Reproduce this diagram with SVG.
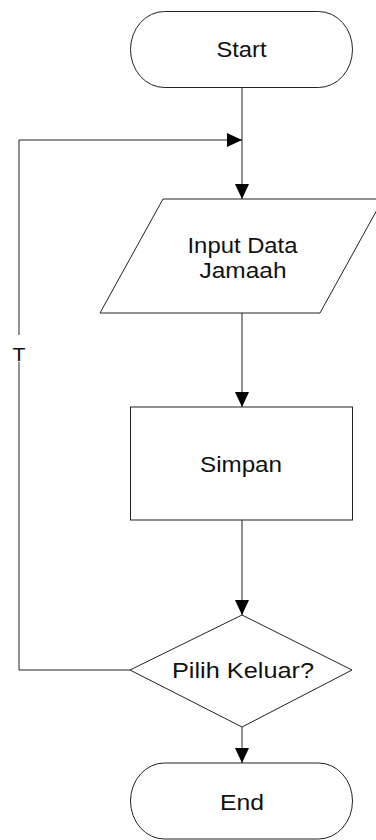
<svg xmlns="http://www.w3.org/2000/svg" width="376" height="840" viewBox="0 0 376 840">
<style>
.shape{fill:#fff;stroke:#222;stroke-width:1}
.conn{fill:none;stroke:#222;stroke-width:1}
.lbl{font-family:"Liberation Sans",Arial,sans-serif;font-size:22px;fill:#111;text-anchor:middle}
</style>
<defs>
<marker id="arr" markerUnits="userSpaceOnUse" markerWidth="16" markerHeight="16" refX="15" refY="7" orient="auto">
<path d="M0,0 L15,7 L0,14 Z" fill="#000"/>
</marker>
</defs>
<rect width="376" height="840" fill="#fff"/>
<g id="connectors">
<path class="conn" d="M242,87 V199" marker-end="url(#arr)"/>
<path class="conn" d="M242,313 V407" marker-end="url(#arr)"/>
<path class="conn" d="M242,520 V615" marker-end="url(#arr)"/>
<path class="conn" d="M242,727 V763" marker-end="url(#arr)"/>
<path class="conn" d="M130,670 H19 V140 H242" marker-end="url(#arr)"/>
<rect x="10" y="335" width="18" height="27" fill="#fff"/>
<text class="lbl" x="19" y="361" style="font-size:18px" textLength="13" lengthAdjust="spacingAndGlyphs">T</text>
</g>
<g id="start">
<rect class="shape" x="130.5" y="11.5" width="222" height="76" rx="34" ry="38"/>
<text class="lbl" x="241.5" y="56.5" textLength="50" lengthAdjust="spacingAndGlyphs">Start</text>
</g>
<g id="input">
<polygon class="shape" points="163,199 383,199 320,313 100,313"/>
<text class="lbl" x="242.5" y="253" textLength="110" lengthAdjust="spacingAndGlyphs">Input Data</text>
<text class="lbl" x="243" y="278" textLength="87" lengthAdjust="spacingAndGlyphs">Jamaah</text>
</g>
<g id="simpan">
<rect class="shape" x="130.5" y="407" width="222" height="113"/>
<text class="lbl" x="241" y="472" textLength="82" lengthAdjust="spacingAndGlyphs">Simpan</text>
</g>
<g id="decision">
<polygon class="shape" points="242,615 352,670 242,727 130,670"/>
<text class="lbl" x="243" y="677.5" textLength="142" lengthAdjust="spacingAndGlyphs">Pilih Keluar?</text>
</g>
<g id="end">
<rect class="shape" x="130.5" y="763" width="222" height="76" rx="34" ry="38"/>
<text class="lbl" x="242" y="809.5" textLength="44" lengthAdjust="spacingAndGlyphs">End</text>
</g>
</svg>
